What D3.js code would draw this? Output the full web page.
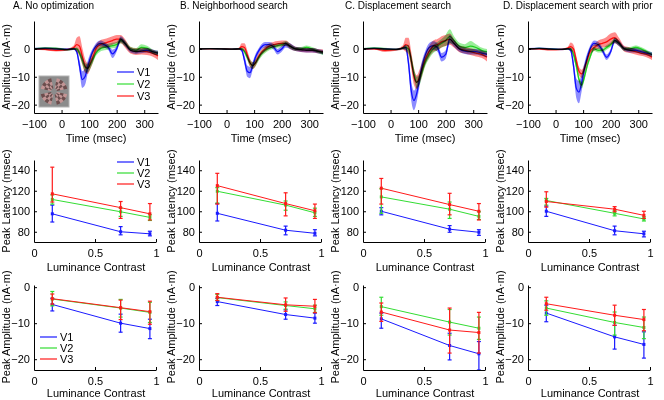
<!DOCTYPE html>
<html>
<head>
<meta charset="utf-8">
<script src="https://cdn.jsdelivr.net/npm/d3@7"></script>
<style>
body { margin: 0; background: #fff; }
svg { font-family: "Liberation Sans", Arial, sans-serif; }
</style>
</head>
<body>
<svg id="fig" width="664" height="400"></svg>
<script>
// ---- data ----
var titles = ["A. No optimization", "B. Neighborhood search", "C. Displacement search", "D. Displacement search with prior"];
var areas = ["V1", "V2", "V3"];
var colors = ["#1a1aff", "#33dd33", "#ff1a1a"];

// time courses (msec) , one row per area
var times = [-100,-60,-20,20,45,55,65,75,85,95,105,115,125,140,155,170,185,200,215,230,250,270,290,310,330,350];

var meanA = [
  [0,0.2,0,-0.2,0,-1,-6,-11,-10,-6.5,-3,-0.5,1,2,1.5,0.5,-1.8,0,3.5,2,-0.5,-1,-0.8,-0.5,-1,-1.5],
  [0,0.3,0.2,-0.3,0,0,-1.5,-4,-6.5,-7,-5.5,-3.5,-1.5,0,0.5,0.8,1.2,1.5,3,2,0,-0.5,0.5,0.3,-1,-1.5],
  [0,-0.2,-0.5,-0.3,0.5,1.5,1,-2.5,-6,-7,-5,-2.5,0,1.5,2,2.5,3,3.5,3.5,2,-0.5,-1,-0.8,-1,-1.5,-2.5]
];
var semA = [
  [0.4,0.4,0.4,0.4,0.4,0.8,2,3,3,2.2,1.5,1,1,1,1,1,1.5,1,1,1,0.8,0.8,0.8,0.8,0.8,0.8],
  [0.3,0.3,0.3,0.3,0.3,0.5,1,1.5,1.5,1.5,1.5,1.2,1,1,1,1,1,1,1,1,0.8,0.8,1.2,0.8,0.8,0.8],
  [0.3,0.3,0.4,0.4,0.8,2.5,3.5,3,2.5,2,2,2,1.5,1.5,1.5,1.5,1.5,1.5,1.5,1.5,1.2,1.2,1.2,1.2,1.2,1.5]
];
var meanB = [
  [0,0.1,0,-0.1,0,-0.5,-4,-8,-8.5,-6,-3,-1,0.5,1.5,1.5,0.8,-1,0,1.5,1,0,-0.3,-0.5,-0.5,-0.8,-1.2],
  [0,0.1,0,-0.1,0,0,-1,-3,-5,-6,-5,-3.5,-2,-0.5,0.3,0.8,1.2,1.5,2,1,0,0,0.5,0,-0.8,-1.5],
  [0,0,0,-0.1,0,0.8,0.5,-2,-5,-6,-5,-3,-1.5,0,1,1.5,1.8,2,2,1,0,-0.3,-0.5,-0.5,-0.8,-1]
];
var semB = [
  [0.2,0.2,0.2,0.2,0.3,0.6,1.5,2,2,1.5,1.2,1,1,1,1,1,1,1,1,1,0.8,0.8,0.8,0.8,0.8,0.8],
  [0.2,0.2,0.2,0.2,0.3,0.4,0.8,1,1.2,1.2,1.2,1,1,1,0.8,0.8,0.8,0.8,0.8,0.8,0.7,0.7,0.7,0.7,0.7,0.7],
  [0.2,0.2,0.2,0.2,0.4,1.2,1.5,1.5,1.5,1.2,1.2,1.2,1,1,1,1,1,1,1,1,0.8,0.8,0.8,0.8,0.8,0.8]
];
var meanC = [
  [0,0.2,0,-0.2,0.3,0.5,-5,-15,-18.5,-16,-11,-6,-2.5,0.5,1.2,0.5,-3,-2,3.5,2,0,-0.8,-1,-1,-1.5,-2],
  [0,0.3,0,-0.2,0.3,0.5,0,-4,-9,-12,-11,-8,-5,-2,0,1,2,3,4.5,3,1,0.5,1,0.5,-0.5,-1],
  [0,0,-0.5,-0.3,0.5,1.5,1,-4,-10,-12,-10,-7,-4,-1,1,1.5,2.5,3,3.5,2,0,-0.5,-1,-1.5,-2,-3]
];
var semC = [
  [0.3,0.3,0.3,0.3,0.4,1,2.5,3.5,3.5,3,2.5,2,1.5,1.5,1.5,1.5,1.5,1.5,1.5,1.2,1,1,1,1,1,1],
  [0.3,0.3,0.4,0.3,0.4,0.8,1.5,2,2,2,2,1.8,1.5,1.5,1.5,1.5,1.5,2,2.5,1.5,1.2,1.2,1.8,1.2,1,1],
  [0.3,0.3,0.6,0.4,0.8,2.5,3,3,3,2.5,2.5,2.5,2,2,2,2,2,2,2,1.5,1.2,1.2,1.2,1.2,1.2,1.5]
];
var meanD = [
  [0,0.2,0,-0.2,0,-0.5,-6,-14,-15.5,-12,-7,-3,0,2,1.5,-0.5,-3,-1,3,2,0,-0.5,-0.5,-1,-1.5,-2],
  [0,0.2,0,-0.2,0,0,-2,-6,-11,-13,-10,-6,-3,0,-0.5,-0.5,0.5,1.5,3,2,0,0,0.5,0,-1,-2],
  [0,0,-0.3,-0.2,0.3,0.8,0,-4,-8,-9,-7,-4,-1,0.5,1.5,2,2.5,3.5,4,2.5,0,-0.5,-1,-1.5,-2,-3]
];
var semD = [
  [0.3,0.3,0.3,0.3,0.3,0.8,2,3.5,4,3,2,1.5,1,1,1,1,1,1,1,1,0.8,0.8,0.8,0.8,0.8,0.8],
  [0.2,0.2,0.2,0.2,0.3,0.5,1,1.2,1.2,1.2,1.2,1,1,0.8,0.8,0.8,0.8,0.8,0.8,0.8,0.7,0.7,0.7,0.7,0.7,0.7],
  [0.3,0.3,0.3,0.3,0.5,1.5,1.5,1.5,1.5,1.5,1.5,1.2,1.2,1.2,1.5,1.5,1.8,2,2,1.5,1,1,1,1,1,1]
];

// luminance contrast levels
var contrast = [0.15, 0.71, 0.95];

// peak latency (msec): mean, lower and upper error
var latA = [[97.5,80,78],[111.5,99.5,94],[117,103.5,97.5]];
var latLoA = [[89.5,77,76],[107,95,91],[109,93,91.5]];
var latHiA = [[106,85,80.5],[116,103,96.5],[143,109.5,107.5]];
var latB = [[98,81.5,78.5],[119.5,106,98.5],[125,107.5,100.5]];
var latLoB = [[90.5,77,76],[108,101,95],[107,95.5,93]];
var latHiB = [[107.5,85.5,82],[123,110,103],[137,118,107]];
var latC = [[100,82.5,79.5],[114,102,95],[122.5,106.5,100]];
var latLoC = [[96.5,79.5,76.5],[98,93,92],[107,96.5,91.5]];
var latHiC = [[103.5,86,82],[122,109,99.5],[132,117.5,107.5]];
var latD = [[100,81,78],[110.5,98,92.5],[109.5,102,96]];
var latLoD = [[95,77,75],[106,95.5,90.5],[104,99.5,93]];
var latHiD = [[105,85.5,80.5],[112.5,100.5,94.5],[119,104.5,100]];

// peak amplitude (nA·m): mean, lower and upper error
var ampA = [[-4.8,-10,-11.5],[-3.3,-5.8,-7],[-3.2,-5.7,-6.8]];
var ampLoA = [[-6.6,-12.5,-14.3],[-5.2,-8.3,-9.8],[-4.7,-9,-10.3]];
var ampHiA = [[-3.1,-7.5,-8.9],[-1.2,-3.4,-4.2],[-1.9,-3.6,-3.9]];
var ampB = [[-4,-7.6,-8.6],[-2.9,-5.1,-6],[-2.8,-4.9,-5.3]];
var ampLoB = [[-5.1,-8.9,-10],[-3.7,-6.1,-7],[-3.7,-6.7,-7.1]];
var ampHiB = [[-3.1,-6.3,-7.2],[-2,-4.1,-5],[-1.8,-3,-3.4]];
var ampC = [[-8.8,-16.2,-18.5],[-5.4,-9.7,-11.4],[-6.9,-11.9,-12.6]];
var ampLoC = [[-11.4,-20.2,-23],[-7.8,-13.3,-14.5],[-9.5,-18.3,-18.3]];
var ampHiC = [[-7.2,-12.8,-15.1],[-2.8,-6.2,-8.3],[-4.4,-5.8,-7]];
var ampD = [[-7.2,-13.8,-15.9],[-5.8,-9.8,-11.2],[-4.6,-7.8,-9]];
var ampLoD = [[-9.6,-17.2,-19.7],[-7.8,-13.3,-14.3],[-6.4,-10.6,-12.1]];
var ampHiD = [[-5,-10.6,-12.4],[-3.8,-6.9,-8.3],[-2.8,-5,-6.2]];

var timeTicks = [-100, 0, 100, 200, 300];
var contrastTicks = [0, 0.5, 1];

// ---- layout ----
var means = [meanA, meanB, meanC, meanD];
var sems = [semA, semB, semC, semD];
var lats = [[latA, latLoA, latHiA], [latB, latLoB, latHiB], [latC, latLoC, latHiC], [latD, latLoD, latHiD]];
var amps = [[ampA, ampLoA, ampHiA], [ampB, ampLoB, ampHiB], [ampC, ampLoC, ampHiC], [ampD, ampLoD, ampHiD]];

var colLeft = [34, 199, 363, 528];
var titleX = [13, 180, 345, 503];
var plotW = 124;
var fs = 11;

var svg = d3.select("#fig");

function styleAxis(g) {
  g.attr("font-family", null).attr("font-size", null);
  g.selectAll("path, line").attr("stroke", "#000").attr("stroke-width", 1);
  g.selectAll("text").attr("fill", "#000").style("font-size", fs + "px");
}

function axes(x, y, xTicks, yTicks, top, bottom, left) {
  svg.append("g")
    .attr("transform", "translate(0," + bottom + ")")
    .call(d3.axisBottom(x).tickValues(xTicks).tickFormat(d3.format("")).tickSizeInner(-3).tickSizeOuter(0).tickPadding(7))
    .call(styleAxis);
  svg.append("g")
    .attr("transform", "translate(" + left + ",0)")
    .call(d3.axisLeft(y).tickValues(yTicks).tickSizeInner(-3).tickSizeOuter(0).tickPadding(4))
    .call(styleAxis);
}

function yLabel(x, yc, txt) {
  svg.append("text")
    .attr("transform", "translate(" + x + "," + yc + ") rotate(-90)")
    .attr("text-anchor", "middle")
    .style("font-size", fs + "px")
    .text(txt);
}

function xLabel(xc, y, txt) {
  svg.append("text")
    .attr("x", xc).attr("y", y)
    .attr("text-anchor", "middle")
    .style("font-size", fs + "px")
    .text(txt);
}

function legend(x, ys) {
  areas.forEach(function(a, k) {
    svg.append("line")
      .attr("x1", x).attr("x2", x + 17)
      .attr("y1", ys[k]).attr("y2", ys[k])
      .attr("stroke", colors[k]).attr("stroke-width", 1.2);
    svg.append("text")
      .attr("x", x + 20).attr("y", ys[k] + 4)
      .style("font-size", "11px")
      .text(a);
  });
}

function pointPanel(x, y, vals) {
  var line = d3.line().x(function(d, j) { return x(contrast[j]); }).y(function(d) { return y(d); });
  areas.forEach(function(a, k) {
    svg.append("path")
      .attr("d", line(vals[0][k]))
      .attr("fill", "none")
      .attr("stroke", colors[k])
      .attr("stroke-width", 1);
  });
  areas.forEach(function(a, k) {
    var g = svg.append("g").attr("stroke", colors[k]).attr("stroke-width", 1.2);
    contrast.forEach(function(c, j) {
      var cx = x(c);
      g.append("line").attr("x1", cx).attr("x2", cx).attr("y1", y(vals[1][k][j])).attr("y2", y(vals[2][k][j]));
      g.append("line").attr("x1", cx - 2).attr("x2", cx + 2).attr("y1", y(vals[1][k][j])).attr("y2", y(vals[1][k][j]));
      g.append("line").attr("x1", cx - 2).attr("x2", cx + 2).attr("y1", y(vals[2][k][j])).attr("y2", y(vals[2][k][j]));
      svg.append("rect")
        .attr("x", cx - 1.5).attr("y", y(vals[0][k][j]) - 1.5)
        .attr("width", 3).attr("height", 3)
        .attr("fill", colors[k]);
    });
  });
}

titles.forEach(function(title, i) {
  var x0 = colLeft[i];
  var xc = x0 + plotW / 2;

  svg.append("text")
    .attr("x", titleX[i]).attr("y", 9)
    .style("font-size", "10px")
    .text(title);

  // ---- time course ----
  var xT = d3.scaleLinear().domain([-100, 350]).range([x0, x0 + plotW]);
  var yT = d3.scaleLinear().domain([-23, 10]).range([113, 21]);
  var g = svg.append("g").style("isolation", "isolate");
  var area = d3.area()
    .x(function(d, j) { return xT(times[j]); })
    .y0(function(d) { return yT(d[0] - d[1]); })
    .y1(function(d) { return yT(d[0] + d[1]); })
    .curve(d3.curveMonotoneX);
  var line = d3.line()
    .x(function(d, j) { return xT(times[j]); })
    .y(function(d) { return yT(d); })
    .curve(d3.curveMonotoneX);
  areas.forEach(function(a, k) {
    var pairs = means[i][k].map(function(m, j) { return [m, sems[i][k][j]]; });
    g.append("path")
      .attr("d", area(pairs))
      .attr("fill", colors[k]).attr("fill-opacity", 0.5)
      .style("mix-blend-mode", "multiply");
  });
  areas.forEach(function(a, k) {
    g.append("path")
      .attr("d", line(means[i][k]))
      .attr("fill", "none")
      .attr("stroke", colors[k]).attr("stroke-width", 1.3)
      .style("mix-blend-mode", "multiply");
  });
  axes(xT, yT, timeTicks, [-20, -10, 0], 21, 113, x0);
  yLabel(x0 - 24, 67, "Amplitude (nA\u00b7m)");
  xLabel(xc, 142, "Time (msec)");

  // ---- peak latency ----
  var xL = d3.scaleLinear().domain([0, 1]).range([x0, x0 + 122]);
  var yL = d3.scaleLinear().domain([70, 150]).range([242, 160]);
  pointPanel(xL, yL, lats[i]);
  axes(xL, yL, contrastTicks, [80, 100, 120, 140], 160, 242, x0);
  yLabel(x0 - 24, 201, "Peak Latency (msec)");
  xLabel(xc, 271, "Luminance Contrast");

  // ---- peak amplitude ----
  var yA = d3.scaleLinear().domain([-23, 0.6]).range([370, 285]);
  pointPanel(xL, yA, amps[i]);
  axes(xL, yA, contrastTicks, [-20, -10, 0], 285, 370, x0);
  yLabel(x0 - 24, 327, "Peak Amplitude (nA\u00b7m)");
  xLabel(xc, 397, "Luminance Contrast");
});

// legends in column A
legend(117, [72, 84, 96]);
legend(117, [162, 173, 184]);
legend(40, [337, 348, 359]);

// stimulus inset in panel A
var inset = svg.append("g").attr("transform", "translate(39,76)");
inset.append("rect").attr("width", 30).attr("height", 31)
  .attr("fill", "#8c8c8c").attr("stroke", "#b4b4b4");
var arc = d3.arc();
[0, 1, 2, 3].forEach(function(q) {
  for (var r = 0; r < 3; r++) {
    for (var s = 0; s < 4; s++) {
      var a0 = (q * 90 + 12 + s * 16.5) * Math.PI / 180;
      inset.append("path")
        .attr("transform", "translate(15,15.5)")
        .attr("d", arc({innerRadius: 3 + r * 3.5, outerRadius: 6.5 + r * 3.5, startAngle: a0, endAngle: a0 + 16.5 * Math.PI / 180}))
        .attr("fill", (r + s) % 2 ? "#6e4c4c" : "#c49494");
    }
  }
});
</script>
</body>
</html>
